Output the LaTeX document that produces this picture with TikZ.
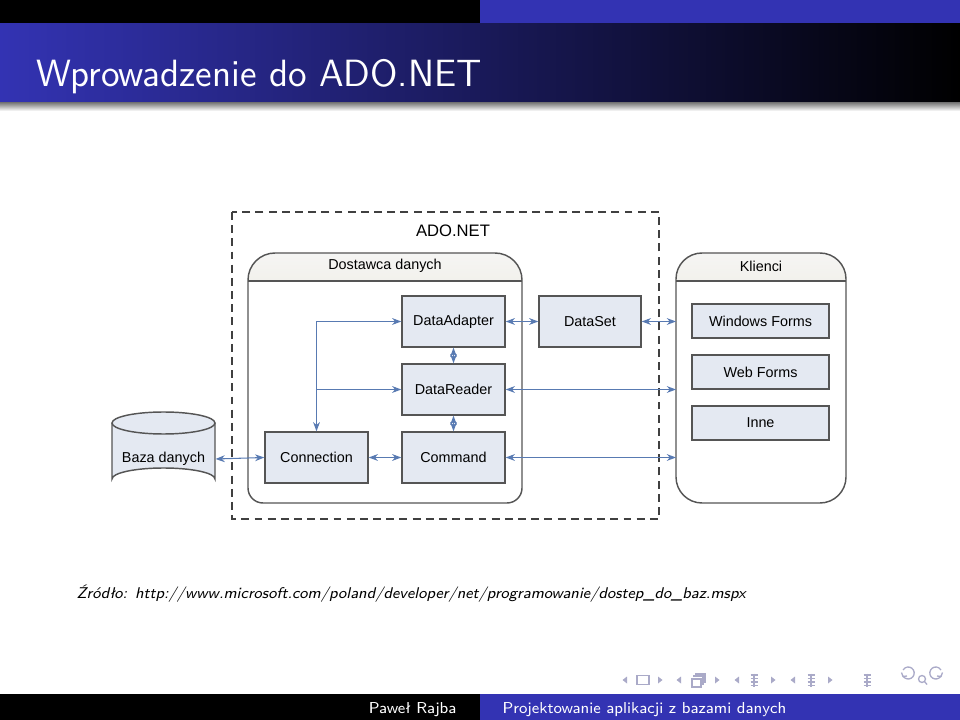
\documentclass[tikz,border=0pt]{standalone}
\usepackage{fontspec}
\newfontfamily\arial{Liberation Sans}
\usetikzlibrary{arrows.meta}
\definecolor{bblue}{RGB}{51,51,179}
\definecolor{boxfill}{RGB}{228,233,242}
\definecolor{boxdraw}{RGB}{85,85,85}
\definecolor{conn}{RGB}{88,122,178}
\definecolor{headfill}{RGB}{242,241,236}
\definecolor{navc}{RGB}{170,170,200}
\begin{document}
\begin{tikzpicture}[x=0.13333mm,y=-0.13333mm,
  dfont/.style={font=\arial\fontsize{5.45}{6.5}\selectfont},
  box/.style={draw=boxdraw, fill=boxfill, line width=0.55pt, inner sep=0pt,
    minimum width=103*0.13333mm, minimum height=51*0.13333mm, dfont},
  cbox/.style={box, minimum width=137*0.13333mm, minimum height=34*0.13333mm},
  cont/.style={draw=boxdraw, line width=0.55pt},
  link/.style={draw=conn, line width=0.4pt, {Stealth[length=3.5pt,width=2.6pt]}-{Stealth[length=3.5pt,width=2.6pt]}},
  link1/.style={draw=conn, line width=0.4pt, -{Stealth[length=3.5pt,width=2.6pt]}},
  nav/.style={draw=navc, line width=0.5pt},
]
\useasboundingbox (0,0) rectangle (960,720);
% ---- beamer headline and frametitle
\fill[black] (0,0) rectangle (480,24);
\fill[bblue] (480,0) rectangle (960,24);
\shade[left color=bblue, right color=black] (0,24) rectangle (960,103);
\shade[top color=black!50, bottom color=white] (0,103) rectangle (960,111);
\node[anchor=base west, text=white, inner sep=0pt, font=\sffamily\fontsize{14.4}{17}\selectfont] (title) at (36,87) {Wprowadzenie do ADO.NET};
% ---- footline
\fill[black] (0,694) rectangle (480,720);
\fill[bblue] (480,694) rectangle (960,720);
\node[anchor=base east, text=white, inner sep=0pt, font=\sffamily\fontsize{6}{7}\selectfont] (author) at (457,713) {Paweł Rajba};
\node[anchor=base west, text=white, inner sep=0pt, font=\sffamily\fontsize{6}{7}\selectfont] (ftitle) at (502,713) {Projektowanie aplikacji z bazami danych};
% ---- navigation symbols
\foreach \x in {625,679,737,793} {\fill[navc] (\x+2,676.5) -- (\x-2.5,680) -- (\x+2,683.5) -- cycle;}
\foreach \x in {660,717,773,830} {\fill[navc] (\x-2,676.5) -- (\x+2.5,680) -- (\x-2,683.5) -- cycle;}
\draw[nav] (637,675.5) rectangle (649,684.5);
\draw[nav] (692,679) rectangle (701,687) (694,677) -- (694,676) -- (703,676) -- (703,684) -- (701,684) (696,676) -- (696,674) -- (705,674) -- (705,682) -- (703,682);
\foreach \x in {754,811,867} {\draw[nav] (\x-3.5,675) -- (\x+3.5,675) (\x-3.5,678.5) -- (\x+3.5,678.5) (\x-3.5,682) -- (\x+3.5,682) (\x-3.5,685.5) -- (\x+3.5,685.5) (\x,673.5) -- (\x,687);}
\draw[nav] (903,676) arc[start angle=150, end angle=-150, x radius=6, y radius=6];
\draw[nav] (901.5,672.5) -- (903,676.5) -- (907,676);
\draw[nav] (922,679) circle[radius=3.5] (924.5,681.5) -- (927,684.5);
\draw[nav] (941,676) arc[start angle=30, end angle=330, x radius=6, y radius=6];
\draw[nav] (942.5,672.5) -- (941,676.5) -- (937,676);
% ---- diagram: outer dashed frame
\draw[draw=black!75, line width=0.7pt, dash pattern=on 3pt off 2pt] (232,212) rectangle (659,519);
\node[font=\arial\fontsize{6.3}{7.5}\selectfont] (ado) at (453,231) {ADO.NET};
% Dostawca danych container
\begin{scope}
  \clip (248,400) [rounded corners=27*0.13333mm] -- (248,253) -- (522,253) -- (522,400) [rounded corners=15*0.13333mm] -- (522,503) -- (248,503) -- cycle;
  \shade[top color=headfill!70!black!10!white, bottom color=headfill] (240,245) rectangle (530,281);
\end{scope}
\path[cont] (248,400) [rounded corners=27*0.13333mm] -- (248,253) -- (522,253) -- (522,400) [rounded corners=15*0.13333mm] -- (522,503) -- (248,503) -- cycle;
\draw[cont] (248,281) -- (522,281);
\node[dfont] (dost) at (385,266) {Dostawca danych};
% Klienci container
\begin{scope}
  \clip (676,400) [rounded corners=26*0.13333mm] -- (676,253) -- (846,253) -- (846,400) -- (846,503) -- (676,503) -- cycle;
  \shade[top color=headfill!70!black!10!white, bottom color=headfill] (670,245) rectangle (850,281);
\end{scope}
\path[cont] (676,400) [rounded corners=26*0.13333mm] -- (676,253) -- (846,253) -- (846,400) -- (846,503) -- (676,503) -- cycle;
\draw[cont] (676,281) -- (846,281);
\node[dfont] (klienci) at (761,266) {Klienci};
\coordinate (klw) at (676,380);
% boxes
\node[box] (da) at (453.5,321.5) {DataAdapter};
\node[box, minimum width=102*0.13333mm] (ds) at (590,321.5) {DataSet};
\node[box] (dr) at (453.5,389.5) {DataReader};
\node[box] (cn) at (316.5,457.5) {Connection};
\node[box] (cmd) at (453.5,457.5) {Command};
\node[cbox] (wf) at (760.5,321) {Windows Forms};
\node[cbox] (web) at (760.5,372) {Web Forms};
\node[cbox] (inne) at (760.5,423) {Inne};
% database cylinder
\fill[boxfill] (112,423) -- (112,479) arc[start angle=180, end angle=360, x radius=51.5, y radius=11] -- (215,423) -- cycle;
\draw[cont] (112,423) -- (112,479) arc[start angle=180, end angle=360, x radius=51.5, y radius=11] -- (215,423);
\draw[cont, fill=boxfill] (163.5,423) ellipse[x radius=51.5, y radius=11];
\node[dfont, minimum width=103*0.13333mm, minimum height=40*0.13333mm, inner sep=0pt] (db) at (163.5,459) {Baza danych};
% connectors
\draw[link] (db.east) -- (cn.west);
\draw[link] (cn.east) -- (cmd.west);
\draw[link] (cmd.east) -- (cmd.east -| klw);
\draw[link] (dr.east) -- (dr.east -| klw);
\draw[link] (da.east) -- (ds.west);
\draw[link] (ds.east) -- (ds.east -| klw);
\draw[link] (da.south) -- (dr.north);
\draw[link] (dr.south) -- (cmd.north);
\draw[link] (da.west) -| (cn.north);
\draw[link1] (cn.north |- dr.west) -- (dr.west);
% source
\node[anchor=base west, inner sep=0pt, font=\sffamily\itshape\fontsize{5.9}{7}\selectfont] (src) at (76,598) {Źródło:\enspace http://www.microsoft.com/poland/developer/net/programowanie/dostep\_do\_baz.mspx};
\end{tikzpicture}
\end{document}
